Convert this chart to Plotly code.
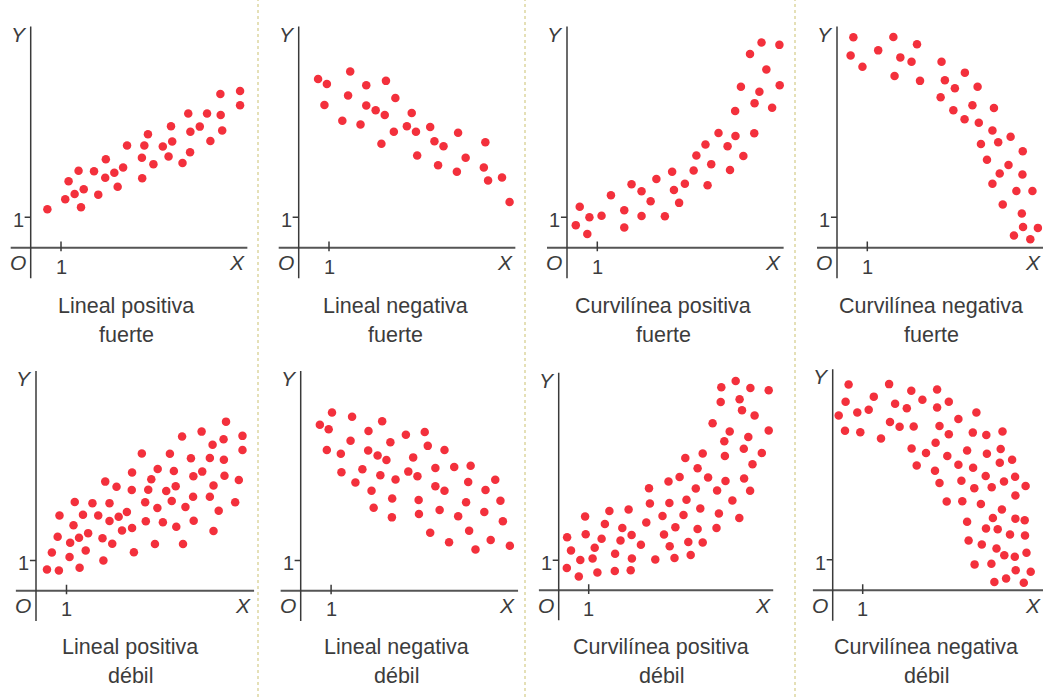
import plotly.graph_objects as go

# 1. DATOS (unidades de los ejes de cada diagrama)

lp_fuerte_x = [0.55, 1.14, 1.25, 1.45, 1.58, 1.66, 1.75, 2.09, 2.23, 2.48, 2.46, 2.76, 2.87, 3.05, 3.18, 3.67, 3.68, 3.75,
               3.87, 4.05, 4.36, 4.55, 4.63, 4.67, 5.01, 5.20, 5.27, 5.26, 5.58, 5.82, 5.93, 6.26, 6.27, 6.32, 6.91, 6.91]
lp_fuerte_y = [1.26, 1.59, 2.18, 1.76, 2.52, 1.33, 1.92, 2.51, 1.74, 2.90, 2.29, 2.46, 2.00, 2.63, 3.35, 2.95, 2.28, 3.35,
               3.72, 2.74, 3.32, 2.99, 3.98, 3.48, 2.78, 4.40, 3.80, 3.13, 3.97, 4.40, 3.50, 5.04, 4.35, 3.84, 5.14, 4.67]

ln_fuerte_x = [0.64, 0.93, 1.70, 0.85, 1.63, 2.23, 2.88, 1.44, 2.23, 2.54, 2.84, 3.19, 2.04, 2.73, 3.14, 3.57, 3.73, 3.87,
               4.34, 3.91, 4.48, 4.78, 5.26, 4.60, 5.22, 5.51, 6.16, 6.11, 6.25, 6.71, 6.96]
ln_fuerte_y = [5.53, 5.37, 5.78, 4.68, 4.99, 5.33, 5.47, 4.16, 4.66, 4.51, 4.35, 4.91, 4.04, 3.41, 3.80, 3.98, 4.42, 3.80,
               3.96, 3.02, 3.49, 3.33, 3.77, 2.70, 2.49, 2.95, 3.46, 2.63, 2.20, 2.30, 1.50]

cp_fuerte_x = [0.29, 0.42, 0.67, 0.74, 1.14, 1.45, 1.89, 1.89, 2.13, 2.46, 2.46, 2.76, 2.95, 3.23, 3.47, 3.53, 3.70, 3.89,
               4.18, 4.27, 4.57, 4.76, 4.64, 5.00, 5.30, 5.56, 5.38, 5.55, 5.82, 5.74, 6.18, 6.19, 6.35, 6.04, 6.42, 6.58,
               6.77, 7.01, 7.02]
cp_fuerte_y = [0.74, 1.34, 0.45, 1.00, 1.05, 1.72, 1.23, 0.66, 2.08, 1.85, 1.04, 1.52, 2.25, 1.03, 2.49, 1.89, 1.47, 2.10,
               2.53, 3.02, 3.38, 2.74, 2.05, 3.76, 3.33, 3.66, 2.55, 4.48, 3.01, 5.28, 3.75, 4.74, 5.11, 6.35, 6.73, 5.84,
               4.59, 6.65, 5.33]

cn_fuerte_x = [0.54, 0.45, 0.84, 1.36, 1.86, 2.09, 1.90, 2.46, 2.64, 2.74, 3.45, 3.56, 3.42, 3.89, 4.22, 3.84, 4.21, 4.47,
               4.64, 4.68, 5.18, 5.13, 4.75, 4.95, 5.32, 5.73, 5.66, 5.37, 5.13, 6.13, 6.12, 5.92, 6.45, 5.47, 6.10, 6.14,
               6.63, 5.84, 6.38]
cn_fuerte_y = [6.90, 6.30, 5.93, 6.47, 6.91, 6.24, 5.63, 6.10, 6.67, 5.47, 6.10, 5.49, 4.93, 5.23, 5.74, 4.51, 4.21, 4.67,
               5.28, 4.10, 4.58, 3.84, 3.40, 2.88, 3.46, 3.64, 2.71, 2.43, 2.10, 3.16, 2.40, 1.86, 1.86, 1.42, 1.12, 0.68,
               0.65, 0.40, 0.28]

lp_debil_x = [0.36, 0.75, 0.52, 0.71, 0.77, 1.10, 1.12, 1.23, 1.27, 1.43, 1.41, 1.54, 1.63, 1.71, 1.85, 2.04, 2.21, 2.18,
              2.27, 2.41, 2.41, 2.50, 2.64, 2.71, 2.82, 2.98, 3.15, 3.14, 3.15, 3.21, 3.47, 3.58, 3.60, 3.68, 3.78, 3.90,
              3.98, 3.99, 4.16, 4.27, 4.39, 4.45, 4.52, 4.58, 4.60, 4.82, 4.79, 4.90, 5.08, 5.15, 5.17, 5.16, 5.43, 5.45,
              5.70, 5.70, 5.79, 5.82, 5.82, 5.99, 6.15, 6.16, 6.18, 6.23, 6.53, 6.65, 6.77, 6.77]
lp_debil_y = [0.70, 0.67, 1.26, 1.78, 2.48, 1.11, 1.58, 2.16, 2.93, 0.76, 1.75, 2.51, 1.33, 1.90, 2.89, 2.48, 1.00, 1.73,
              3.60, 2.89, 2.30, 1.55, 3.43, 2.44, 1.99, 2.60, 3.90, 3.32, 2.07, 1.27, 4.53, 2.92, 2.29, 3.33, 3.68, 1.54,
              2.73, 4.02, 2.26, 3.29, 4.52, 2.96, 3.95, 3.45, 2.11, 1.54, 5.09, 2.76, 4.37, 3.10, 2.31, 3.78, 5.25, 3.93,
              4.38, 3.10, 4.82, 3.47, 1.97, 2.64, 5.00, 4.32, 3.79, 5.58, 2.92, 3.65, 5.11, 4.64]

ln_debil_x = [0.63, 1.03, 0.92, 1.69, 0.86, 1.32, 1.64, 2.23, 2.68, 2.22, 2.53, 2.82, 2.95, 3.46, 4.08, 4.18, 4.73, 3.70,
              1.34, 1.80, 2.03, 2.62, 2.33, 2.40, 3.12, 3.54, 3.84, 3.01, 3.00, 3.88, 3.89, 4.43, 4.43, 4.73, 5.05, 5.59,
              5.51, 4.57, 5.18, 5.44, 6.40, 6.08, 6.57, 6.04, 5.54, 4.26, 4.88, 5.75, 6.25, 6.65, 6.88]
ln_debil_y = [5.48, 5.88, 5.33, 5.74, 4.64, 4.52, 4.95, 5.27, 5.59, 4.63, 4.46, 4.31, 4.90, 5.15, 5.24, 4.78, 4.64, 4.40,
              3.91, 3.57, 4.01, 3.81, 3.30, 2.74, 3.67, 3.93, 3.78, 3.04, 2.42, 2.99, 2.53, 4.05, 3.45, 3.30, 4.08, 4.12,
              3.59, 2.66, 2.46, 2.92, 3.66, 3.32, 2.97, 2.60, 1.98, 1.91, 1.60, 1.36, 1.67, 2.29, 1.48]

cp_debil_x = [0.28, 0.41, 0.27, 0.67, 0.72, 0.88, 0.90, 1.20, 1.13, 1.29, 1.43, 1.54, 1.69, 1.88, 1.87, 2.06, 2.12, 2.33,
              2.43, 2.44, 2.40, 2.74, 2.92, 3.01, 3.04, 3.22, 3.46, 3.51, 3.66, 3.69, 3.70, 3.86, 3.89, 4.03, 4.16, 4.26,
              4.22, 4.32, 4.40, 4.63, 4.72, 4.80, 4.63, 4.57, 4.80, 4.98, 5.13, 5.28, 5.26, 5.34, 5.56, 5.52, 5.54, 5.70,
              5.42, 5.40, 5.79, 5.90, 6.03, 6.11, 6.02, 6.17, 6.18, 6.32, 6.38, 6.39, 6.46, 6.53, 6.77, 7.00, 7.00]
cp_debil_y = [1.77, 1.33, 0.74, 0.46, 1.01, 2.46, 1.87, 1.42, 1.06, 0.59, 1.72, 2.21, 2.64, 1.22, 0.64, 1.66, 2.08, 2.69,
              1.84, 1.06, 0.67, 1.52, 2.26, 3.40, 2.89, 1.03, 2.48, 1.86, 3.63, 2.91, 1.47, 1.08, 2.10, 3.78, 2.51, 3.02,
              4.41, 1.61, 1.18, 2.04, 2.73, 1.59, 4.07, 3.39, 4.56, 3.76, 5.57, 3.33, 2.08, 2.56, 3.64, 4.97, 4.48, 5.29,
              6.77, 6.28, 2.99, 6.98, 6.37, 6.00, 2.41, 4.72, 3.73, 5.11, 3.32, 6.74, 4.20, 5.83, 4.58, 6.67, 5.33]

cn_debil_x = [0.20, 0.43, 0.53, 0.41, 0.82, 0.92, 1.20, 1.37, 1.61, 1.88, 1.91, 2.08, 2.23, 2.47, 2.62, 2.70, 2.99, 3.48,
              3.48, 3.56, 3.87, 3.87, 3.43, 2.63, 2.80, 3.11, 3.41, 3.56, 3.80, 3.82, 4.19, 4.19, 4.29, 4.32, 4.48, 4.67,
              4.68, 4.79, 4.72, 4.94, 5.12, 5.10, 5.14, 5.30, 5.60, 5.57, 5.66, 5.71, 5.98, 6.08, 6.09, 5.64, 5.34, 5.11,
              4.48, 4.53, 4.97, 5.50, 5.91, 6.09, 6.40, 6.43, 6.41, 5.46, 5.72, 6.07, 6.46, 6.10, 6.60, 4.73, 5.29, 5.39,
              5.78, 6.37]
cn_debil_y = [5.73, 6.18, 6.75, 5.23, 5.83, 5.18, 5.92, 6.35, 4.98, 6.76, 5.52, 6.12, 5.36, 5.97, 6.54, 5.37, 6.25, 6.58,
              5.99, 5.39, 6.18, 5.12, 4.84, 4.65, 4.09, 4.50, 3.92, 3.52, 2.91, 4.40, 5.62, 4.12, 3.59, 2.92, 4.58, 5.17,
              4.02, 5.83, 3.35, 2.83, 5.09, 3.75, 4.48, 3.38, 4.63, 4.18, 5.21, 3.57, 4.28, 3.72, 3.11, 2.65, 2.37, 2.03,
              2.25, 1.63, 1.50, 2.00, 1.83, 2.35, 2.30, 3.42, 1.80, 1.37, 1.15, 1.10, 1.23, 0.66, 0.61, 0.85, 0.87, 0.27,
              0.39, 0.25]

titulos = ['Lineal positiva', 'Lineal negativa', 'Curvilínea positiva', 'Curvilínea negativa']
grados = ['fuerte', 'débil']


# 2. POSICIÓN DE CADA DIAGRAMA (píxeles: origen, unidad, centro del pie)

W, H = 1043, 697
panels = [
    dict(x=lp_fuerte_x, y=lp_fuerte_y, ox=30.7, oy=247.7, ux=30.3, uy=30.5, cx=126, cy=306, t=0, g=0),
    dict(x=ln_fuerte_x, y=ln_fuerte_y, ox=298.7, oy=247.7, ux=30.3, uy=30.5, cx=395, cy=306, t=1, g=0),
    dict(x=cp_fuerte_x, y=cp_fuerte_y, ox=567, oy=247.7, ux=30.3, uy=30.5, cx=663, cy=306, t=2, g=0),
    dict(x=cn_fuerte_x, y=cn_fuerte_y, ox=837, oy=247.7, ux=30.3, uy=30.5, cx=931, cy=306, t=3, g=0),
    dict(x=lp_debil_x, y=lp_debil_y, ox=36, oy=590.7, ux=30.5, uy=30.3, cx=130, cy=647, t=0, g=1),
    dict(x=ln_debil_x, y=ln_debil_y, ox=300.7, oy=590.7, ux=30.4, uy=30.3, cx=396, cy=647, t=1, g=1),
    dict(x=cp_debil_x, y=cp_debil_y, ox=558.7, oy=590.3, ux=30.0, uy=30.0, cx=661, cy=647, t=2, g=1),
    dict(x=cn_debil_x, y=cn_debil_y, ox=832.7, oy=590.3, ux=30.0, uy=30.5, cx=926, cy=647, t=3, g=1),
]

ROJO = '#f3303c'
EJE = '#3a3a3a'
TXT = '#3c3c3c'
FUENTE = 'Liberation Sans, Arial, sans-serif'

fig = go.Figure()
shapes = []
annotations = []

for i, p in enumerate(panels, start=1):
    s = '' if i == 1 else str(i)
    left = p['ox'] - 1.0 * p['ux']
    right = min(p['ox'] + 7.4 * p['ux'], W)
    top = p['oy'] - 7.5 * p['uy']
    bottom = p['oy'] + 1.1 * p['uy']
    fig.update_layout({
        'xaxis' + s: dict(domain=[left / W, right / W], anchor='y' + s, visible=False,
                          range=[(left - p['ox']) / p['ux'], (right - p['ox']) / p['ux']]),
        'yaxis' + s: dict(domain=[1 - bottom / H, 1 - top / H], anchor='x' + s, visible=False,
                          range=[(p['oy'] - bottom) / p['uy'], (p['oy'] - top) / p['uy']]),
    })
    fig.add_trace(go.Scatter(x=p['x'], y=p['y'], mode='markers', xaxis='x' + s, yaxis='y' + s,
                             marker=dict(size=8.5, color=ROJO, line=dict(width=0)),
                             showlegend=False, hoverinfo='skip'))

    ref = dict(xref='x' + s, yref='y' + s)
    # ejes
    shapes.append(dict(type='line', x0=-0.66, x1=7.15, y0=0, y1=0, line=dict(color='#555555', width=2), **ref))
    shapes.append(dict(type='line', x0=0, x1=0, y0=-1.0, y1=7.25, line=dict(color=EJE, width=1.5), **ref))
    # marcas del 1
    shapes.append(dict(type='line', x0=1, x1=1, y0=-0.12, y1=0.2, line=dict(color=EJE, width=1.5), **ref))
    shapes.append(dict(type='line', x0=-0.2, x1=0, y0=1, y1=1, line=dict(color=EJE, width=1.5), **ref))

    etiquetas = [('<i>Y</i>', -0.4, 7.0, 21), ('1', -0.4, 0.9, 20), ('<i>O</i>', -0.42, -0.5, 21),
                 ('1', 1.0, -0.62, 20)]
    for txt, ax, ay, fs in etiquetas:
        annotations.append(dict(text=txt, x=ax, y=ay, showarrow=False, xanchor='center', yanchor='middle',
                                font=dict(family=FUENTE, size=fs, color=TXT), **ref))
    if p['ox'] + 7.2 * p['ux'] > W:
        # la X queda al borde del dibujo
        annotations.append(dict(text='<i>X</i>', x=1, y=-0.5, xref='paper', yref='y' + s, showarrow=False,
                                xanchor='right', yanchor='middle', font=dict(family=FUENTE, size=21, color=TXT)))
    else:
        annotations.append(dict(text='<i>X</i>', x=6.8, y=-0.5, showarrow=False, xanchor='center', yanchor='middle',
                                font=dict(family=FUENTE, size=21, color=TXT), **ref))

    annotations.append(dict(text=titulos[p['t']], x=p['cx'] / W, y=1 - p['cy'] / H, xref='paper', yref='paper',
                            showarrow=False, xanchor='center', yanchor='middle',
                            font=dict(family=FUENTE, size=21.5, color=TXT)))
    annotations.append(dict(text=grados[p['g']], x=p['cx'] / W, y=1 - (p['cy'] + 29) / H, xref='paper', yref='paper',
                            showarrow=False, xanchor='center', yanchor='middle',
                            font=dict(family=FUENTE, size=21.5, color=TXT)))

# separadores punteados entre columnas
for sx in [258, 525, 795]:
    shapes.append(dict(type='line', xref='paper', yref='paper', x0=sx / W, x1=sx / W, y0=0, y1=1,
                       line=dict(color='#ddd6a0', width=1.5, dash='dot')))

fig.update_layout(width=W, height=H, margin=dict(l=0, r=0, t=0, b=0),
                  paper_bgcolor='white', plot_bgcolor='white',
                  shapes=shapes, annotations=annotations)

fig.write_html('out.html', config={'displayModeBar': False},
               post_script="document.body.style.margin='0';")
